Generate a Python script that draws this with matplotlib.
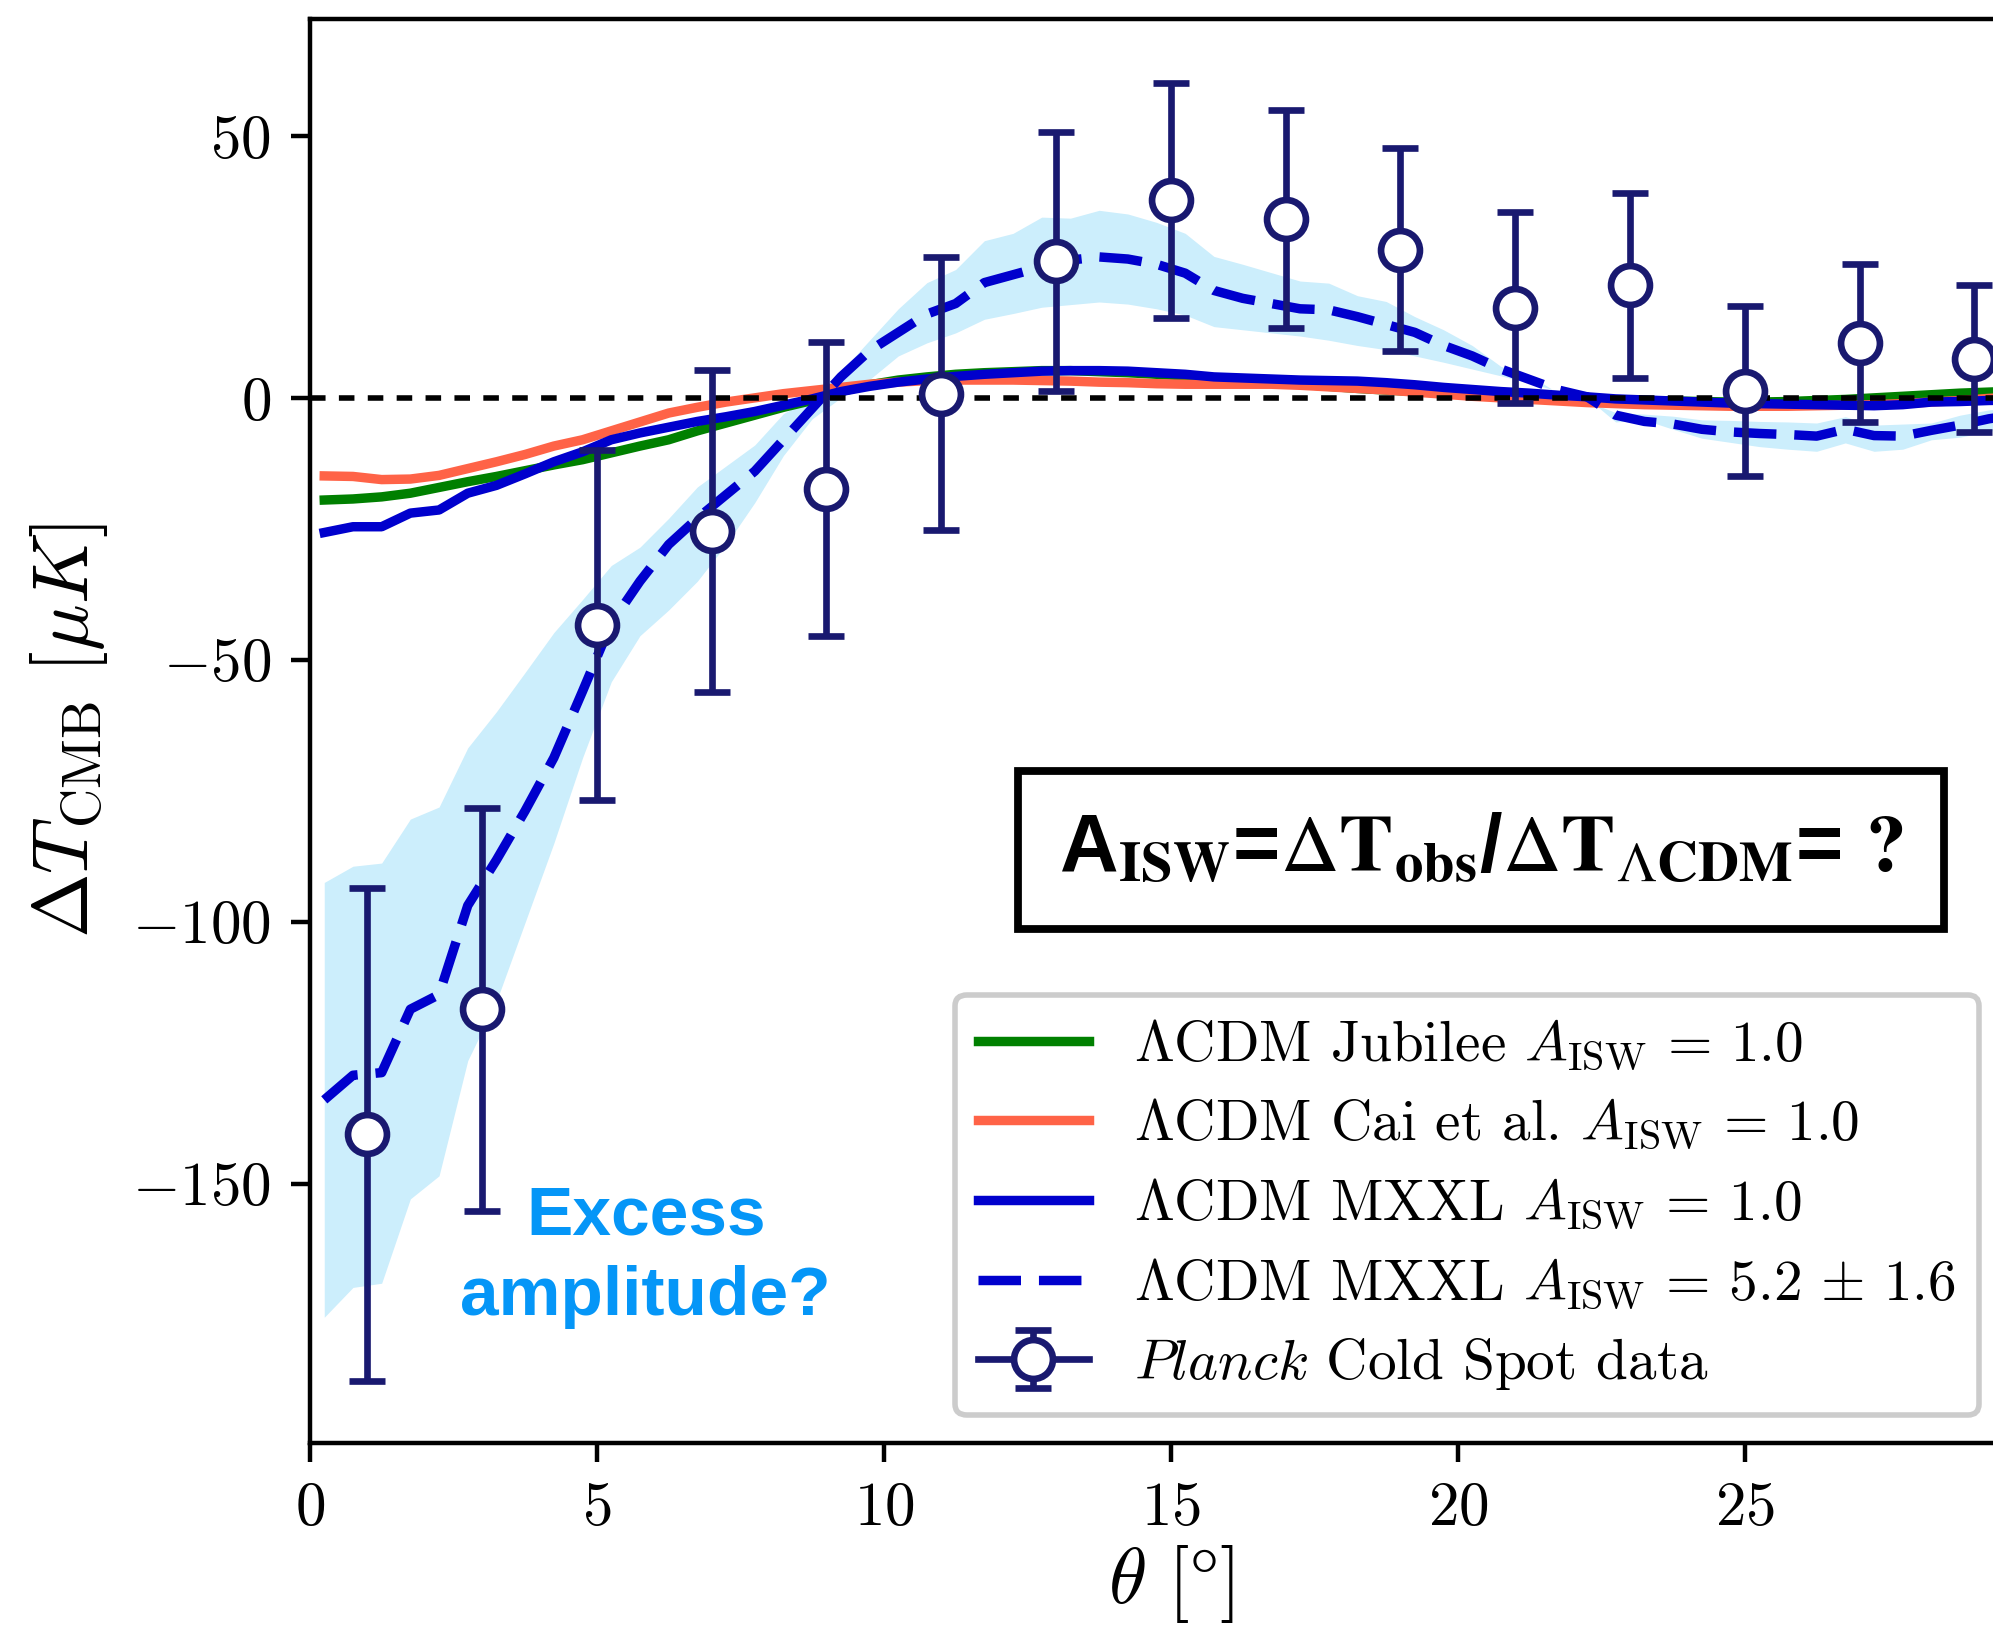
import numpy as np
import matplotlib
matplotlib.use('Agg')
import matplotlib.pyplot as plt

plt.rcParams['font.family'] = 'serif'
plt.rcParams['font.serif'] = ['cmr10']
plt.rcParams['mathtext.fontset'] = 'cm'
plt.rcParams['axes.formatter.use_mathtext'] = True

# model curves, sampled every half degree
theta = np.arange(0.25, 30.0, 0.5)

jubilee = [-19.5, -19.3, -18.9, -18.2, -17.1, -16.0, -15.0, -13.9, -12.8, -11.8,
           -10.5, -9.2, -8.0, -6.3, -4.8, -3.3, -1.8, -0.5, 1.2, 2.5,
           3.4, 4.0, 4.5, 4.8, 5.0, 5.2, 5.2, 5.0, 4.8, 4.5,
           4.2, 3.8, 3.4, 3.0, 2.6, 2.2, 1.8, 1.5, 1.2, 0.9,
           0.6, 0.4, 0.2, 0.0, -0.2, -0.4, -0.5, -0.6, -0.7, -0.8,
           -0.8, -0.7, -0.5, -0.3, 0.0, 0.3, 0.6, 0.9, 1.1, 1.3]

cai = [-14.9, -15.0, -15.6, -15.5, -14.8, -13.5, -12.2, -10.8, -9.2, -8.0,
       -6.3, -4.6, -2.9, -1.8, -0.8, 0.0, 0.8, 1.4, 2.0, 2.6,
       3.0, 3.3, 3.4, 3.4, 3.4, 3.3, 3.2, 3.0, 2.9, 2.7,
       2.6, 2.6, 2.6, 2.6, 2.4, 2.1, 1.8, 1.5, 1.1, 0.7,
       0.3, 0.0, -0.3, -0.6, -0.9, -1.1, -1.3, -1.4, -1.5, -1.6,
       -1.6, -1.6, -1.5, -1.4, -1.3, -1.1, -0.8, -0.5, -0.1, 0.2]

mxxl = [-25.7, -24.6, -24.6, -22.0, -21.4, -18.2, -16.7, -14.5, -12.2, -10.3,
        -8.0, -6.7, -5.6, -4.5, -3.6, -2.6, -1.4, -0.2, 1.2, 2.2,
        3.0, 3.6, 4.1, 4.5, 4.8, 5.1, 5.2, 5.2, 5.1, 4.8,
        4.5, 4.0, 3.8, 3.6, 3.4, 3.3, 3.2, 2.9, 2.5, 2.0,
        1.6, 1.2, 0.9, 0.5, 0.2, -0.2, -0.4, -0.6, -0.8, -1.0,
        -1.1, -1.2, -1.3, -1.4, -1.5, -1.3, -0.8, -0.7, -0.5, -0.4]

mxxl_52 = [-134.0, -129.3, -128.8, -116.7, -113.9, -96.9, -88.2, -78.8, -68.7, -56.0,
           -43.0, -35.0, -28.0, -23.0, -18.5, -14.0, -8.0, -2.0, 4.0, 9.0,
           12.5, 16.0, 18.0, 22.0, 23.5, 25.0, 26.3, 26.9, 26.5, 25.5,
           23.8, 20.5, 19.0, 18.0, 17.0, 16.8, 15.5, 14.0, 12.5, 10.0,
           8.0, 5.5, 3.5, 1.5, 0.2, -3.3, -4.5, -5.0, -6.0, -6.5,
           -6.8, -7.0, -7.3, -6.0, -7.2, -7.3, -6.2, -5.2, -4.0, -3.2]

mxxl_52_hi = [-92.5, -89.4, -88.8, -80.4, -78.1, -66.8, -59.9, -52.4, -44.8, -38.5,
              -32.0, -28.5, -23.0, -17.0, -13.0, -9.0, -3.0, 0.0, 5.0, 11.0,
              17.0, 22.0, 24.5, 30.0, 31.4, 34.5, 34.3, 35.8, 35.1, 33.5,
              31.4, 27.0, 25.5, 23.9, 22.3, 21.9, 19.5, 18.4, 15.5, 13.0,
              10.0, 6.0, 4.3, 0.9, -0.7, -2.8, -3.1, -3.5, -4.2, -4.3,
              -4.5, -4.6, -4.8, -3.6, -5.2, -5.0, -4.8, -3.3, -2.3, -1.8]

mxxl_52_lo = [-175.5, -169.8, -169.0, -152.9, -148.5, -126.5, -115.2, -100.1, -85.0, -68.7,
              -54.2, -45.4, -40.5, -35.0, -28.0, -20.0, -11.0, -4.0, 0.0, 3.5,
              8.0, 10.5, 12.4, 15.0, 16.1, 17.3, 17.8, 18.3, 17.9, 17.0,
              15.8, 13.6, 13.0, 12.4, 11.8, 11.0, 10.0, 9.2, 8.0, 6.8,
              5.5, 4.2, 2.8, 1.3, 0.0, -4.6, -4.2, -6.0, -7.7, -8.5,
              -9.3, -9.8, -10.2, -8.6, -10.2, -9.8, -8.0, -7.5, -6.4, -5.5]

# Planck cold spot profile
theta_data = [1, 3, 5, 7, 9, 11, 13, 15, 17, 19, 21, 23, 25, 27, 29]
dT_data = [-140.6, -116.7, -43.3, -25.4, -17.4, 0.8, 26.1, 37.7, 34.1, 28.3,
           17.2, 21.5, 1.3, 10.4, 7.5]
dT_err = [47.0, 38.5, 33.4, 30.7, 28.1, 26.0, 24.7, 22.4, 20.8, 19.4,
          18.2, 17.7, 16.3, 15.1, 14.0]

fig = plt.figure(figsize=(1993/400, 1632/400), dpi=400)
ax = fig.add_axes([0.1555, 0.1158, 0.8640, 0.8725])

ax.fill_between(theta, mxxl_52_lo, mxxl_52_hi, color='#cceefc', lw=0, zorder=1)
ax.plot(theta, jubilee, color='green', lw=1.7,
        label=r'$\Lambda$CDM Jubilee $A_{\rm ISW}\,=\,1.0$', zorder=2)
ax.plot(theta, cai, color='tomato', lw=1.7,
        label=r'$\Lambda$CDM Cai et al. $A_{\rm ISW}\,=\,1.0$', zorder=2)
ax.plot(theta, mxxl, color='mediumblue', lw=1.7,
        label=r'$\Lambda$CDM MXXL $A_{\rm ISW}\,=\,1.0$', zorder=3)
ax.plot(theta, mxxl_52, color='mediumblue', lw=1.7, ls=(0, (4.5, 1.9)),
        label=r'$\Lambda$CDM MXXL $A_{\rm ISW}\,=\,5.2\,\pm\,1.6$', zorder=3)
ax.axhline(0, color='k', lw=1.0, ls=(0, (2.8, 2.4)), zorder=4)

eb = ax.errorbar(theta_data, dT_data, yerr=dT_err, fmt='-o', color='midnightblue',
                 mfc='white', mec='midnightblue', ms=7, mew=1.2, elinewidth=1.2,
                 capsize=3.2, capthick=1.2, lw=1.2, zorder=5,
                 label=r'$\mathit{Planck}$ Cold Spot data')

leg = ax.legend(loc='lower right', bbox_to_anchor=(1979/1993, 1 - 1415/1632),
                bbox_transform=fig.transFigure, borderaxespad=0, fontsize=10.3,
                handlelength=1.93, labelspacing=0.43, framealpha=1)
eb[0].set_linestyle('none')

ax.text(20.4, -86.3,
        r'A$_{\mathbf{ISW}}$=$\Delta\mathbf{T}_{\mathbf{obs}}$/$\Delta\mathbf{T}_{\mathit{\Lambda}\mathbf{CDM}}$= $\mathbf{?}$',
        family='Liberation Sans', fontweight='bold', fontsize=14.6, math_fontfamily='stix',
        ha='center', va='center', zorder=6,
        bbox=dict(boxstyle='square,pad=0.5', fc='white', ec='black', lw=1.4))

ax.text(5.85, -164, 'Excess\namplitude?', family='Liberation Sans', fontweight='bold',
        fontsize=12.5, color='#0596f7', ha='center', va='center', linespacing=1.33)

ax.set_xlim(0, 30)
ax.set_ylim(-199.5, 72.3)
ax.set_xticks([0, 5, 10, 15, 20, 25])
ax.set_yticks([-150, -100, -50, 0, 50])
ax.tick_params(labelsize=11)
ax.set_xlabel(r'$\theta\ [\degree]$', fontsize=14, labelpad=1)
ax.set_ylabel(r'$\Delta T_{\rm CMB}\ [\mu K]$', fontsize=14)

fig.savefig('out.png', dpi=400)
